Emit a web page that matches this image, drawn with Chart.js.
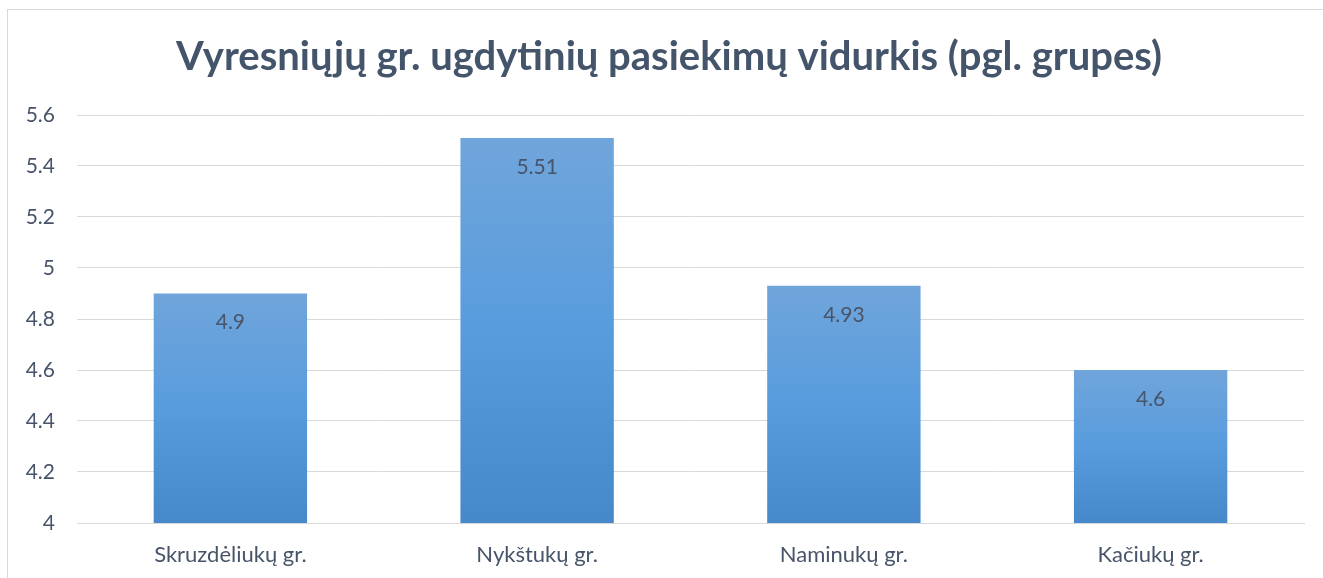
<!DOCTYPE html>
<html>
<head>
<meta charset="utf-8">
<script src="https://cdn.jsdelivr.net/npm/chart.js@4/dist/chart.umd.min.js"></script>
<style>
  html, body { margin: 0; padding: 0; background: #fff; overflow: hidden; }
  #wrap { position: relative; width: 1323px; height: 578px; }
</style>
</head>
<body>
<div id="wrap"><canvas id="c" width="1323" height="578"></canvas></div>
<script>
const chartTitle = 'Vyresniųjų gr. ugdytinių pasiekimų vidurkis (pgl. grupes)';
const categories = ['Skruzdėliukų gr.', 'Nykštukų gr.', 'Naminukų gr.', 'Kačiukų gr.'];
const values = [4.9, 5.51, 4.93, 4.6];
const yTicks = [4, 4.2, 4.4, 4.6, 4.8, 5, 5.2, 5.4, 5.6];

const FONT = 'Lato, "Open Sans", sans-serif';
const TEXT = '#48546A';

function barGradient(ctx) {
  const chart = ctx.chart;
  const ys = chart.scales && chart.scales.y;
  if (!ys || !chart.chartArea || ctx.parsed === undefined) return '#5B9BD5';
  const top = ys.getPixelForValue(ctx.parsed.y);
  const bottom = ys.getPixelForValue(ys.min);
  if (!isFinite(top) || !isFinite(bottom) || top === bottom) return '#5B9BD5';
  const g = chart.ctx.createLinearGradient(0, top, 0, bottom);
  g.addColorStop(0, '#70A5DB');
  g.addColorStop(0.5, '#589CDD');
  g.addColorStop(1, '#4688C9');
  return g;
}

const frame = {
  id: 'frame',
  beforeDraw(chart) {
    const c = chart.ctx;
    c.save();
    c.strokeStyle = '#D9D9D9';
    c.lineWidth = 1;
    c.strokeRect(7.5, 9.5, 3000, 3000);
    c.font = 'bold 40px ' + FONT;
    c.fillStyle = '#44546A';
    c.textAlign = 'center';
    c.textBaseline = 'middle';
    c.fillText(chartTitle, 669, 57);
    c.restore();
  }
};

const valueLabels = {
  id: 'valueLabels',
  afterDatasetsDraw(chart) {
    const c = chart.ctx;
    const meta = chart.getDatasetMeta(0);
    c.save();
    c.font = '21px ' + FONT;
    c.fillStyle = TEXT;
    c.textAlign = 'center';
    c.textBaseline = 'middle';
    meta.data.forEach((bar, i) => {
      c.fillText(String(values[i]), bar.x, bar.y + 29);
    });
    c.restore();
  }
};

new Chart(document.getElementById('c'), {
  type: 'bar',
  data: {
    labels: categories,
    datasets: [{
      data: values,
      backgroundColor: barGradient,
      borderWidth: 0,
      barPercentage: 0.5,
      categoryPercentage: 1.0
    }]
  },
  plugins: [frame, valueLabels],
  options: {
    responsive: false,
    animation: false,
    devicePixelRatio: 1,
    layout: { padding: { left: 0, right: 19, top: 115, bottom: 0 } },
    plugins: {
      legend: { display: false },
      tooltip: { enabled: false },
      title: { display: false }
    },
    scales: {
      x: {
        grid: { display: false, drawTicks: false },
        border: { display: true, color: '#D9D9D9', width: 1 },
        ticks: { color: TEXT, font: { family: FONT, size: 22 }, padding: 19 },
        afterFit(scale) { scale.height = 55; }
      },
      y: {
        min: 4,
        max: 5.6,
        afterBuildTicks(scale) { scale.ticks = yTicks.map(v => ({ value: v })); },
        grid: { color: '#D9D9D9', drawTicks: false, lineWidth: 1 },
        border: { display: false },
        ticks: {
          color: TEXT,
          font: { family: FONT, size: 21 },
          padding: 22,
          callback: (v) => String(Math.round(v * 10) / 10)
        },
        afterFit(scale) { scale.width = 77; }
      }
    }
  }
});
</script>
</body>
</html>
